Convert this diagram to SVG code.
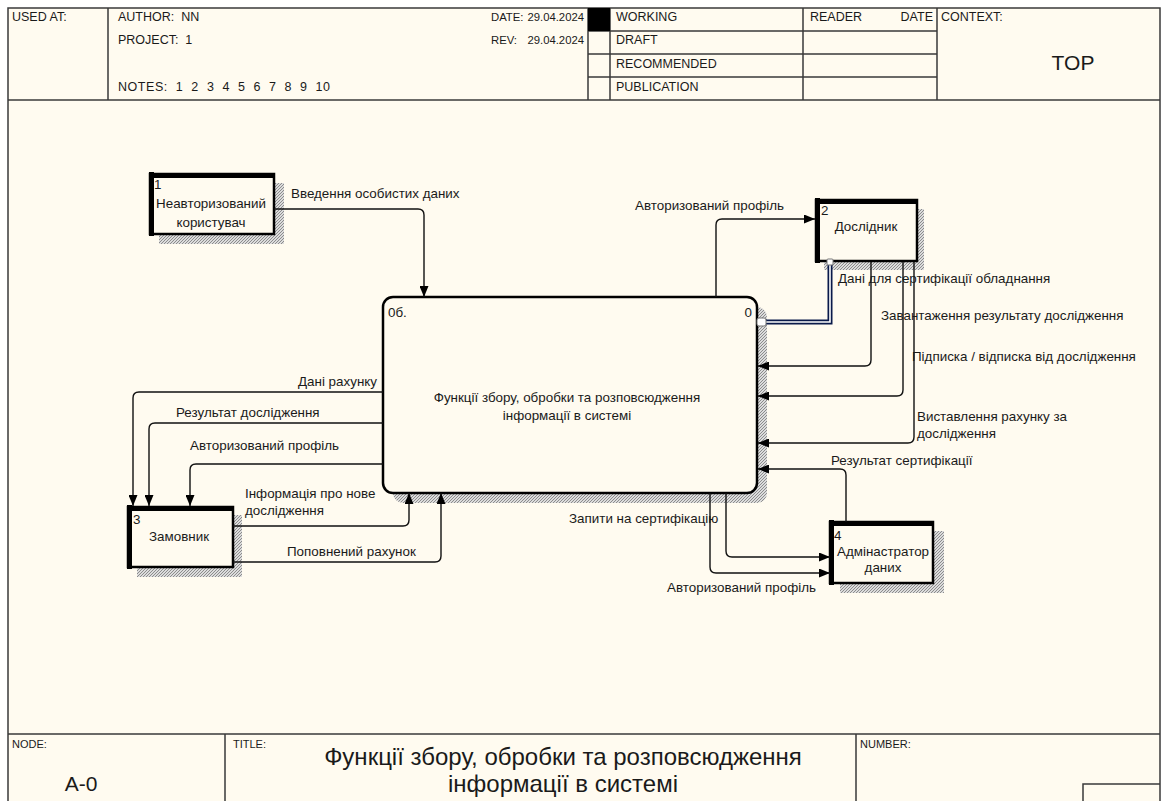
<svg xmlns="http://www.w3.org/2000/svg" width="1166" height="801" viewBox="0 0 1166 801">
<style>
text{font-family:"Liberation Sans",Arial,sans-serif;fill:#1a1a1a}
.hd{font-size:12.5px}
.hs{font-size:11.3px}
.lb{font-size:13.4px}
.nt{font-size:13.4px}
.big{font-size:21px}
.ttl{font-size:24px}
.sm{font-size:11px}
.grid{stroke:#3a3a3a;stroke-width:1.5;fill:none}
.con{fill:none;stroke:#111;stroke-width:1.4;marker-end:url(#arr)}
.box{fill:#fffbf0;stroke:#000;stroke-width:2.5}
.bar{stroke:#000;stroke-width:5}
</style>
<defs>
<pattern id="hatch" width="3" height="3" patternUnits="userSpaceOnUse">
<rect width="3" height="3" fill="#dcdcdc"/>
<path d="M0,3 L3,0" stroke="#8c8c8c" stroke-width="1"/>
</pattern>
<marker id="arr" viewBox="0 0 11 9" refX="11" refY="4.5" markerWidth="11" markerHeight="9" markerUnits="userSpaceOnUse" orient="auto">
<path d="M0,0 L11,4.5 L0,9 z" fill="#000"/>
</marker>
</defs>
<rect x="0" y="0" width="1166" height="801" fill="#ffffff"/>
<rect x="8" y="8" width="1152" height="800" fill="#fffbf0"/>
<g id="frame">
<path class="grid" d="M8,801 V8 H1160 V801"/>
<path class="grid" d="M8,100 H1160"/>
<path class="grid" d="M108,8 V100 M588,8 V100 M610,8 V100 M803,8 V100 M937,8 V100"/>
<path class="grid" d="M588,31 H937 M588,54 H937 M588,77 H937"/>
<rect x="588" y="8" width="22" height="23" fill="#000"/>
<text class="hd" x="12" y="21">USED AT:</text>
<text class="hd" x="118" y="21" xml:space="preserve">AUTHOR:  NN</text>
<text class="hd" x="118" y="44" xml:space="preserve">PROJECT:  1</text>
<text class="hd" x="118" y="91" xml:space="preserve" textLength="212" lengthAdjust="spacing">NOTES:  1  2  3  4  5  6  7  8  9  10</text>
<text class="hs" x="491" y="21">DATE:</text>
<text class="hs" x="584" y="21" text-anchor="end">29.04.2024</text>
<text class="hs" x="491" y="44">REV:</text>
<text class="hs" x="584" y="44" text-anchor="end">29.04.2024</text>
<text class="hd" x="616" y="21">WORKING</text>
<text class="hd" x="616" y="44">DRAFT</text>
<text class="hd" x="616" y="68">RECOMMENDED</text>
<text class="hd" x="616" y="91">PUBLICATION</text>
<text class="hd" x="810" y="21">READER</text>
<text class="hd" x="933" y="21" text-anchor="end">DATE</text>
<text class="hd" x="941" y="21">CONTEXT:</text>
<text class="big" x="1073" y="70" text-anchor="middle">TOP</text>
<path class="grid" d="M8,734 H1160 M225,734 V801 M856,734 V801 M1083,801 V784 H1160"/>
<text class="sm" x="12" y="748">NODE:</text>
<text class="big" x="81" y="791" text-anchor="middle">A-0</text>
<text class="sm" x="233" y="748">TITLE:</text>
<text class="ttl" x="563" y="765" text-anchor="middle">Функції збору, обробки та розповсюдження</text>
<text class="ttl" x="563" y="792" text-anchor="middle">інформації в системі</text>
<text class="sm" x="860" y="748">NUMBER:</text>
</g>
<g id="main">
<rect x="393" y="307" width="374" height="196" rx="10" fill="url(#hatch)"/>
<rect x="383" y="297" width="374" height="196" rx="10" class="box"/>
<text class="nt" x="388" y="317">0б.</text>
<text class="nt" x="752" y="317" text-anchor="end">0</text>
<text class="nt" x="567" y="402" text-anchor="middle">Функції збору, обробки та розповсюдження</text>
<text class="nt" x="567" y="420" text-anchor="middle">інформації в системі</text>
</g>
<g id="node1">
<rect x="159" y="183" width="125" height="61" fill="url(#hatch)"/>
<rect x="150" y="174" width="124" height="60" class="box"/>
<path class="bar" d="M151.5,172 V236 M150,175.5 H275"/>
<text class="nt" x="154" y="189">1</text>
<text class="nt" x="211" y="208" text-anchor="middle">Неавторизований</text>
<text class="nt" x="211" y="227" text-anchor="middle">користувач</text>
</g>
<g id="node2">
<rect x="824" y="209" width="100" height="61" fill="url(#hatch)"/>
<rect x="816" y="200" width="101" height="61" class="box"/>
<path class="bar" d="M817.5,198 V263 M816,201.5 H918"/>
<text class="nt" x="821" y="215">2</text>
<text class="nt" x="866" y="231" text-anchor="middle">Дослідник</text>
</g>
<g id="node3">
<rect x="137" y="515" width="105" height="62" fill="url(#hatch)"/>
<rect x="128" y="507" width="105" height="60" class="box"/>
<path class="bar" d="M129.5,505 V569 M128,508.5 H234"/>
<text class="nt" x="133" y="524">3</text>
<text class="nt" x="179" y="541" text-anchor="middle">Замовник</text>
</g>
<g id="node4">
<rect x="840" y="531" width="104" height="62" fill="url(#hatch)"/>
<rect x="830" y="522" width="103" height="61" class="box"/>
<path class="bar" d="M831.5,520 V585 M830,523.5 H934"/>
<text class="nt" x="834" y="540">4</text>
<text class="nt" x="883" y="556" text-anchor="middle">Адмінастратор</text>
<text class="nt" x="883" y="572" text-anchor="middle">даних</text>
</g>
<g id="connectors">
<path class="con" d="M274,209 H418 Q424,209 424,215 V297"/>
<path class="con" d="M716,297 V225 Q716,219 722,219 H815"/>
<path d="M830,262 V322 H760" fill="none" stroke="#0a1a4a" stroke-width="5"/>
<path d="M830,262 V322 H760" fill="none" stroke="#ffffff" stroke-width="1.6"/>
<rect x="757" y="318" width="9" height="8" rx="2" fill="#fff" stroke="#777" stroke-width="1"/>
<rect x="827" y="259" width="6" height="6" rx="1" fill="#fff" stroke="#777" stroke-width="1"/>
<path class="con" d="M871,262 V360 Q871,366 865,366 H758"/>
<path class="con" d="M903,262 V390 Q903,396 897,396 H758"/>
<path class="con" d="M914,262 V437 Q914,443 908,443 H758"/>
<path class="con" d="M846,522 V475 Q846,469 840,469 H758"/>
<path class="con" d="M726,493 V551 Q726,557 732,557 H830"/>
<path class="con" d="M710,493 V567 Q710,573 716,573 H830"/>
<path class="con" d="M383,392 H139 Q133,392 133,398 V506"/>
<path class="con" d="M383,423 H155 Q149,423 149,429 V506"/>
<path class="con" d="M383,464 H196 Q190,464 190,470 V506"/>
<path class="con" d="M233,526 H403 Q409,526 409,520 V493"/>
<path class="con" d="M233,562 H435 Q441,562 441,556 V493"/>
<text class="lb" x="291" y="198">Введення особистих даних</text>
<text class="lb" x="635" y="210">Авторизований профіль</text>
<text class="lb" x="838" y="283">Дані для сертифікації обладнання</text>
<text class="lb" x="881" y="320">Завантаження результату дослідження</text>
<text class="lb" x="912" y="361">Підписка / відписка від дослідження</text>
<text class="lb" x="917" y="421">Виставлення рахунку за</text>
<text class="lb" x="917" y="438">дослідження</text>
<text class="lb" x="831" y="465">Результат сертифікації</text>
<text class="lb" x="569" y="523">Запити на сертифікацію</text>
<text class="lb" x="667" y="592">Авторизований профіль</text>
<text class="lb" x="298" y="386">Дані рахунку</text>
<text class="lb" x="176" y="417">Результат дослідження</text>
<text class="lb" x="190" y="450">Авторизований профіль</text>
<text class="lb" x="245" y="498">Інформація про нове</text>
<text class="lb" x="245" y="515">дослідження</text>
<text class="lb" x="287" y="556">Поповнений рахунок</text>
</g>
</svg>
